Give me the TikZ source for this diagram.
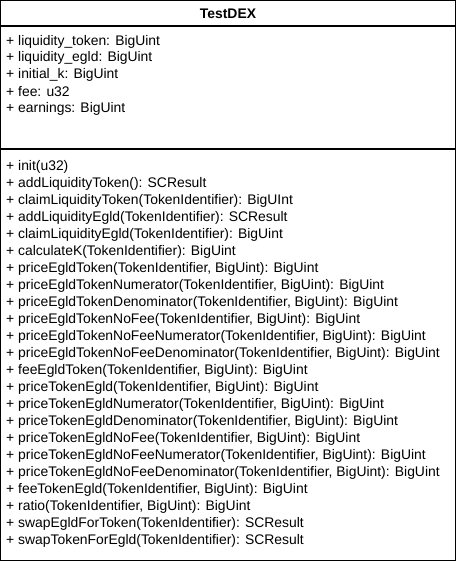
\documentclass[tikz,border=0pt]{standalone}
\usepackage{fontspec}
\setmainfont{Liberation Sans}
\begin{document}
\begin{tikzpicture}[x=1pt,y=-1pt,
  frame/.style={draw=black,line width=1.3pt},
  member/.style={anchor=west,inner sep=0pt,font=\fontsize{13.9}{16}\selectfont},
  title/.style={inner sep=0pt,font=\fontsize{13.9}{16}\selectfont\bfseries}]
\useasboundingbox (0,0) rectangle (457,563);
% class box and compartment separators
\draw[frame] (0.7,0.7) rectangle (455.6,560.6);
\draw[frame] (0.7,26) -- (455.6,26);
\draw[frame] (0.7,149) -- (455.6,149);
\node[title] (name) at (228,14) {TestDEX};
% attributes
\foreach \t [count=\i from 0] in {%
  {+ liquidity\_token: BigUint},
  {+ liquidity\_egld: BigUint},
  {+ initial\_k: BigUint},
  {+ fee: u32},
  {+ earnings: BigUint}}
  \node[member] (a\i) at (6,41.5+16.75*\i) {\t};
% operations
\foreach \t [count=\i from 0] in {%
  {+ init(u32)},
  {+ addLiquidityToken(): SCResult},
  {+ claimLiquidityToken(TokenIdentifier): BigUInt},
  {+ addLiquidityEgld(TokenIdentifier): SCResult},
  {+ claimLiquidityEgld(TokenIdentifier): BigUint},
  {+ calculateK(TokenIdentifier): BigUint},
  {+ priceEgldToken(TokenIdentifier, BigUint): BigUint},
  {+ priceEgldTokenNumerator(TokenIdentifier, BigUint): BigUint},
  {+ priceEgldTokenDenominator(TokenIdentifier, BigUint): BigUint},
  {+ priceEgldTokenNoFee(TokenIdentifier, BigUint): BigUint},
  {+ priceEgldTokenNoFeeNumerator(TokenIdentifier, BigUint): BigUint},
  {+ priceEgldTokenNoFeeDenominator(TokenIdentifier, BigUint): BigUint},
  {+ feeEgldToken(TokenIdentifier, BigUint): BigUint},
  {+ priceTokenEgld(TokenIdentifier, BigUint): BigUint},
  {+ priceTokenEgldNumerator(TokenIdentifier, BigUint): BigUint},
  {+ priceTokenEgldDenominator(TokenIdentifier, BigUint): BigUint},
  {+ priceTokenEgldNoFee(TokenIdentifier, BigUint): BigUint},
  {+ priceTokenEgldNoFeeNumerator(TokenIdentifier, BigUint): BigUint},
  {+ priceTokenEgldNoFeeDenominator(TokenIdentifier, BigUint): BigUint},
  {+ feeTokenEgld(TokenIdentifier, BigUint): BigUint},
  {+ ratio(TokenIdentifier, BigUint): BigUint},
  {+ swapEgldForToken(TokenIdentifier): SCResult},
  {+ swapTokenForEgld(TokenIdentifier): SCResult}}
  \node[member] (m\i) at (6,167+17*\i) {\t};
\end{tikzpicture}
\end{document}
